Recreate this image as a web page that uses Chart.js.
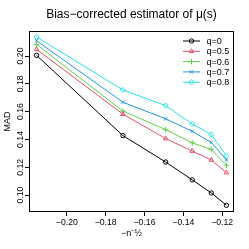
<!DOCTYPE html>
<html>
<head>
<meta charset="utf-8">
<script src="https://cdn.jsdelivr.net/npm/chart.js@4"></script>
<style>
  html, body { margin: 0; padding: 0; background: #fff; }
  canvas { display: block; }
</style>
</head>
<body>
<canvas id="chart" width="249" height="249"></canvas>
<script>
// Chart data
const xValues = [-0.2156, -0.1711, -0.1491, -0.1354, -0.1256, -0.1178];
const seriesLabels = ['q=0', 'q=0.5', 'q=0.6', 'q=0.7', 'q=0.8'];
const madQ0  = [0.2005, 0.1428, 0.1238, 0.1110, 0.1016, 0.0927];
const madQ05 = [0.2048, 0.1582, 0.1407, 0.1317, 0.1253, 0.1162];
const madQ06 = [0.2083, 0.1604, 0.1471, 0.1376, 0.1329, 0.1215];
const madQ07 = [0.2110, 0.1668, 0.1549, 0.1459, 0.1379, 0.1253];
const madQ08 = [0.2137, 0.1756, 0.1644, 0.1511, 0.1436, 0.1283];
const xTicks = [-0.20, -0.18, -0.16, -0.14, -0.12];
const yTicks = [0.10, 0.12, 0.14, 0.16, 0.18, 0.20];

const chartTitle = 'Bias\u2212corrected estimator of \u03bc(s)';
const xTitle = '\u2212n\u207b\u00bd';
const yTitle = 'MAD';

const FONT = "'Liberation Sans', Arial, sans-serif";

// R 4 default palette
const colors = ['#000000', '#DF536B', '#61D04F', '#2297E6', '#28E2E5'];
const markers = ['circle', 'triangle', 'cross', 'crossRot', 'rectRot'];
const radii = [2.2, 2.6, 2.8, 2.4, 2.6];

const allSeries = [madQ0, madQ05, madQ06, madQ07, madQ08];

const datasets = allSeries.map((vals, i) => ({
    label: seriesLabels[i],
    data: vals.map((v, j) => ({ x: xValues[j], y: v })),
    borderColor: colors[i],
    backgroundColor: 'rgba(0,0,0,0)',
    pointBorderColor: colors[i],
    pointBackgroundColor: 'rgba(0,0,0,0)',
    pointStyle: markers[i],
    pointRadius: radii[i],
    pointBorderWidth: 1,
    borderWidth: 1,
    tension: 0,
    fill: false
}));

function fmtTick(v) {
    return v.toFixed(2).replace('-', '\u2212');
}

// box around the plot, title and legend (R style)
const rStylePlugin = {
    id: 'rStyle',
    afterDraw(chart) {
        const ctx = chart.ctx;
        const a = chart.chartArea;
        ctx.save();
        ctx.strokeStyle = '#000';
        ctx.lineWidth = 1;
        ctx.strokeRect(Math.round(a.left) + 0.5, Math.round(a.top) + 0.5,
            Math.round(a.right - a.left) - 1, Math.round(a.bottom - a.top) - 1);

        // main title
        ctx.fillStyle = '#000';
        ctx.font = '12px ' + FONT;
        ctx.textAlign = 'center';
        ctx.textBaseline = 'middle';
        ctx.fillText(chartTitle, (a.left + a.right) / 2, 14.5);

        // legend, top right inside the plot
        ctx.font = '9px ' + FONT;
        ctx.textAlign = 'left';
        chart.data.datasets.forEach((ds, i) => {
            const y = a.top + 10 + i * 10.3;
            const x1 = a.right - 51;
            const x2 = a.right - 34;
            ctx.strokeStyle = ds.borderColor;
            ctx.lineWidth = 1;
            ctx.beginPath();
            ctx.moveTo(x1, y);
            ctx.lineTo(x2, y);
            ctx.stroke();
            ctx.fillStyle = 'rgba(0,0,0,0)';
            Chart.helpers.drawPoint(ctx, {
                pointStyle: ds.pointStyle,
                radius: ds.pointRadius,
                rotation: 0,
                borderWidth: 1
            }, (x1 + x2) / 2, y);
            ctx.fillStyle = '#000';
            ctx.fillText(ds.label, a.right - 27.5, y + 0.5);
        });
        ctx.restore();
    }
};

new Chart(document.getElementById('chart'), {
    type: 'line',
    data: { datasets: datasets },
    options: {
        responsive: false,
        animation: false,
        devicePixelRatio: 1,
        layout: { padding: { top: 31, right: 15, left: 0, bottom: 0 } },
        plugins: {
            legend: { display: false },
            title: { display: false },
            tooltip: { enabled: false }
        },
        scales: {
            x: {
                type: 'linear',
                min: -0.2195,
                max: -0.1139,
                afterBuildTicks: s => { s.ticks = xTicks.map(v => ({ value: v })); },
                afterFit: s => { s.height = 37; },
                grid: { drawOnChartArea: false, tickLength: 4, color: '#000' },
                border: { display: false },
                ticks: {
                    font: { family: FONT, size: 8.7 },
                    color: '#000',
                    padding: 1.5,
                    autoSkip: false,
                    maxRotation: 0,
                    callback: v => fmtTick(v)
                },
                title: {
                    display: true,
                    text: xTitle,
                    color: '#000',
                    font: { family: FONT, size: 9 },
                    padding: { top: 0, bottom: 10 }
                }
            },
            y: {
                type: 'linear',
                min: 0.0879,
                max: 0.2180,
                afterBuildTicks: s => { s.ticks = yTicks.map(v => ({ value: v })); },
                afterFit: s => { s.width = 29; },
                grid: { drawOnChartArea: false, tickLength: 4, color: '#000' },
                border: { display: false },
                ticks: {
                    font: { family: FONT, size: 8.7 },
                    color: '#000',
                    padding: 4,
                    autoSkip: false,
                    minRotation: 90,
                    maxRotation: 90,
                    labelOffset: -8.5,
                    callback: v => fmtTick(v)
                },
                title: {
                    display: true,
                    text: yTitle,
                    color: '#000',
                    font: { family: FONT, size: 9 },
                    padding: { top: 2, bottom: 0 }
                }
            }
        }
    },
    plugins: [rStylePlugin]
});
</script>
</body>
</html>
